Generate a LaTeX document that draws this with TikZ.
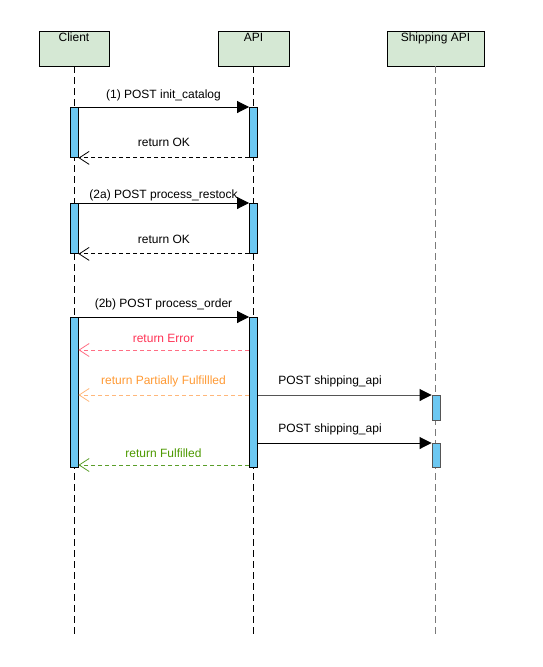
\documentclass[tikz,border=0pt]{standalone}
\usepackage{fontspec}
\setmainfont{Liberation Sans}
\usetikzlibrary{arrows.meta}
\definecolor{boxfill}{HTML}{D5E8D4}
\definecolor{barfill}{HTML}{6CC8F2}
\definecolor{errtext}{HTML}{FF3355}
\definecolor{errline}{HTML}{FF6E84}
\definecolor{parttext}{HTML}{FF9933}
\definecolor{partline}{HTML}{FFB77A}
\definecolor{oktext}{HTML}{4D9900}
\definecolor{okline}{HTML}{5A9E2A}
\definecolor{shipline}{HTML}{555555}
\definecolor{shiplife}{HTML}{7A7A7A}
\begin{document}
\begin{tikzpicture}[x=1pt,y=-1pt,
  every node/.style={font=\fontsize{12}{14}\selectfont},
  actor/.style={draw=black,fill=boxfill,line width=0.9pt,minimum height=35pt,inner sep=0pt},
  lifeline/.style={line width=0.9pt,dash pattern=on 7pt off 4pt},
  bar/.style={draw=black,fill=barfill,line width=0.9pt,minimum width=8pt,inner sep=0pt,anchor=north},
  call/.style={line width=0.9pt,-{Triangle[length=12pt,width=12pt]}},
  ret/.style={line width=0.9pt,dash pattern=on 4pt off 3pt,-{Straight Barb[length=10pt,width=13pt,line width=0.8pt]}},
  lbl/.style={anchor=base,inner sep=0pt}]
\useasboundingbox (0,0) rectangle (543,667);
% actors
\node[actor,minimum width=70pt,label={[anchor=base,inner sep=0pt,yshift=-10.7pt]north:Client}] (client) at (74,48.5) {};
\node[actor,minimum width=71pt,label={[anchor=base,inner sep=0pt,yshift=-10.7pt]north:API}] (api) at (253.5,48.5) {};
\node[actor,minimum width=97pt,label={[anchor=base,inner sep=0pt,yshift=-10.7pt]north:Shipping API}] (ship) at (435.5,48.5) {};
% lifelines
\coordinate (clientend) at (74,635);
\coordinate (apiend) at (253.5,635);
\coordinate (shipend) at (435.5,635);
\draw[lifeline] (client.south) -- (clientend);
\draw[lifeline] (api.south) -- (apiend);
\draw[lifeline,draw=shiplife] (ship.south) -- (shipend);
% activation bars
\node[bar,minimum height=50pt] (cb1) at (74,107) {};
\node[bar,minimum height=50pt] (ab1) at (253.5,107) {};
\node[bar,minimum height=50pt] (cb2) at (74,203) {};
\node[bar,minimum height=50pt] (ab2) at (253.5,203) {};
\node[bar,minimum height=150pt] (cb3) at (74,317) {};
\node[bar,minimum height=150pt] (ab3) at (253.5,317) {};
\node[bar,draw=shipline,minimum height=25pt] (sb1) at (436,395) {};
\node[bar,draw=shipline,minimum height=24pt] (sb2) at (436,443) {};
% message heights
\coordinate (yErr) at (0,350);
\coordinate (yPart) at (0,395);
\coordinate (yShipA) at (0,395);
\coordinate (yShipB) at (0,443);
\coordinate (yFul) at (0,465);
% (1)
\draw[call] (cb1.north east) -- (ab1.north west);
\node[lbl] (l1) at (163.5,98) {(1) POST init\_catalog};
\draw[ret] (ab1.south west) -- (cb1.south east);
\node[lbl] (l1r) at (164,146) {return OK};
% (2a)
\draw[call] (cb2.north east) -- (ab2.north west);
\node[lbl] (l2) at (163.5,198) {(2a) POST process\_restock};
\draw[ret] (ab2.south west) -- (cb2.south east);
\node[lbl] (l2r) at (164,243) {return OK};
% (2b)
\draw[call] (cb3.north east) -- (ab3.north west);
\node[lbl] (l3) at (163.5,307) {(2b) POST process\_order};
\draw[ret,draw=errline] (ab3.west |- yErr) -- (cb3.east |- yErr);
\node[lbl,text=errtext] (lerr) at (163.5,342) {return Error};
\draw[ret,draw=partline] (ab3.west |- yPart) -- (cb3.east |- yPart);
\node[lbl,text=parttext] (lpart) at (163.5,384) {return Partially Fulfillled};
\draw[call,draw=shipline,-{Triangle[length=12pt,width=12pt,color=black,fill=black]}] (ab3.east |- yShipA) -- (sb1.north west);
\node[lbl] (ls1) at (330,384) {POST shipping\_api};
\draw[call] (ab3.east |- yShipB) -- (sb2.north west);
\node[lbl] (ls2) at (330,432) {POST shipping\_api};
\draw[ret,draw=okline] (ab3.west |- yFul) -- (cb3.east |- yFul);
\node[lbl,text=oktext] (lful) at (163.5,457) {return Fulfilled};
\end{tikzpicture}
\end{document}
